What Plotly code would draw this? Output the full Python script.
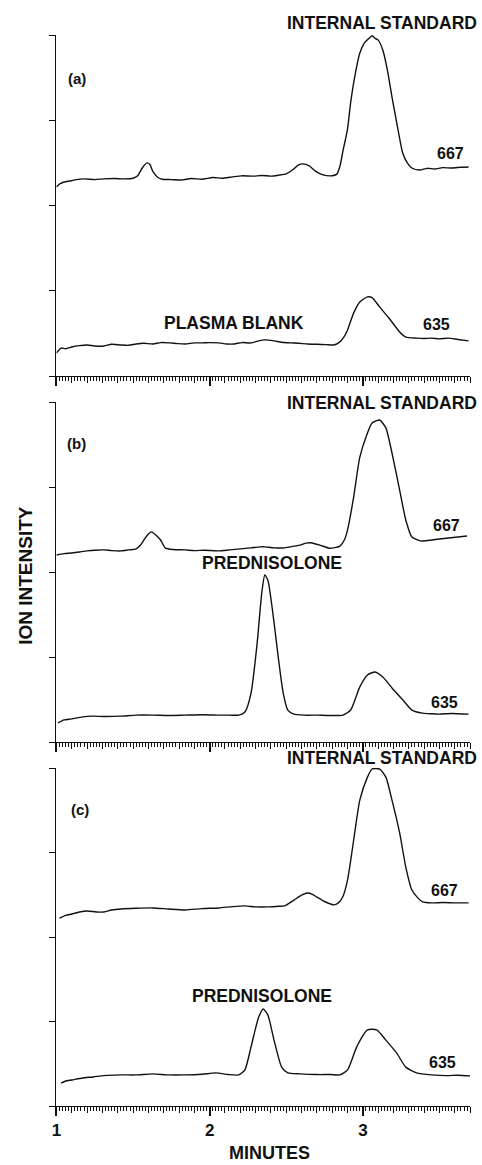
import plotly.graph_objects as go

# ---------------- data (time in minutes, relative ion intensity) ----------------
# panel (a) m/z 667
a667_t = [1.00, 1.02, 1.05, 1.09, 1.12, 1.18, 1.25, 1.31, 1.38, 1.44, 1.50, 1.53, 1.56, 1.59, 1.61, 1.63,
          1.66, 1.69, 1.75, 1.82, 1.88, 1.95, 2.02, 2.08, 2.15, 2.21, 2.28, 2.34, 2.40, 2.45, 2.50, 2.54,
          2.58, 2.61, 2.65, 2.69, 2.74, 2.79, 2.83, 2.85, 2.87, 2.90, 2.92, 2.95, 2.98, 3.01, 3.05, 3.06,
          3.08, 3.10, 3.13, 3.16, 3.19, 3.23, 3.26, 3.29, 3.32, 3.37, 3.42, 3.47, 3.52, 3.58, 3.64, 3.69]
a667_v = [55.4, 56.3, 56.9, 57.2, 57.5, 57.8, 57.6, 57.8, 57.9, 57.8, 58.0, 58.7, 61.0, 62.5, 62.0, 59.9,
          58.3, 57.7, 57.6, 57.5, 57.9, 57.7, 58.2, 58.0, 58.4, 58.7, 58.6, 58.8, 58.6, 58.9, 59.3, 60.4,
          61.9, 62.2, 61.6, 60.1, 59.0, 58.7, 59.2, 61.5, 66.0, 72.5, 80.1, 88.5, 94.7, 97.7, 99.4, 99.8,
          99.0, 98.5, 95.6, 89.7, 81.8, 72.1, 65.4, 62.5, 61.0, 60.4, 60.9, 60.7, 61.1, 61.0, 61.2, 61.3]

# panel (a) m/z 635 (plasma blank)
a635_t = [1.00, 1.03, 1.06, 1.10, 1.15, 1.20, 1.25, 1.31, 1.36, 1.42, 1.47, 1.52, 1.57, 1.63, 1.68, 1.74,
          1.79, 1.84, 1.90, 1.95, 2.00, 2.06, 2.11, 2.16, 2.21, 2.27, 2.32, 2.36, 2.42, 2.47, 2.53, 2.58,
          2.64, 2.70, 2.76, 2.81, 2.85, 2.88, 2.90, 2.94, 2.98, 3.03, 3.06, 3.11, 3.17, 3.24, 3.28, 3.35,
          3.40, 3.45, 3.50, 3.56, 3.62, 3.69]
a635_v = [6.7, 8.2, 8.0, 8.5, 8.9, 9.1, 8.8, 8.8, 9.3, 9.1, 9.0, 9.4, 9.6, 9.4, 9.8, 9.7,
          9.5, 9.4, 9.7, 9.7, 9.8, 9.7, 9.4, 9.4, 9.8, 9.7, 10.3, 10.6, 10.3, 9.9, 9.7, 9.6,
          9.4, 9.3, 9.2, 9.1, 10.0, 11.7, 13.5, 18.5, 21.7, 23.2, 23.0, 20.2, 17.0, 12.9, 11.4, 11.1,
          11.0, 11.1, 10.9, 11.1, 10.7, 10.3]

# panel (b) m/z 667
b667_t = [1.00, 1.05, 1.10, 1.15, 1.20, 1.25, 1.31, 1.36, 1.42, 1.47, 1.52, 1.55, 1.57, 1.60, 1.62, 1.65,
          1.68, 1.71, 1.76, 1.84, 1.90, 1.97, 2.06, 2.13, 2.20, 2.27, 2.33, 2.36, 2.42, 2.49, 2.55, 2.59,
          2.63, 2.66, 2.72, 2.78, 2.81, 2.85, 2.88, 2.90, 2.94, 2.98, 3.03, 3.06, 3.09, 3.11, 3.15, 3.19,
          3.24, 3.28, 3.32, 3.36, 3.39, 3.45, 3.50, 3.56, 3.62, 3.68]
b667_v = [55.0, 55.4, 55.6, 55.9, 56.2, 56.4, 56.5, 56.3, 56.2, 56.5, 56.8, 58.0, 59.4, 61.2, 61.8, 60.8,
          59.4, 57.1, 56.6, 56.5, 56.3, 56.4, 56.2, 56.5, 56.8, 57.1, 57.4, 57.4, 57.1, 57.1, 57.6, 57.9,
          58.5, 58.6, 57.9, 57.0, 57.1, 57.6, 59.5, 62.4, 72.1, 83.8, 90.9, 93.8, 94.5, 94.7, 92.4, 85.0,
          74.1, 65.3, 60.3, 59.4, 59.1, 59.4, 59.7, 60.0, 60.3, 60.6]

# panel (b) m/z 635 (prednisolone)
b635_t = [1.01, 1.05, 1.10, 1.17, 1.24, 1.31, 1.42, 1.52, 1.63, 1.73, 1.84, 1.95, 2.06, 2.13, 2.19, 2.23,
          2.27, 2.31, 2.34, 2.36, 2.38, 2.41, 2.45, 2.48, 2.51, 2.55, 2.62, 2.70, 2.78, 2.87, 2.92, 2.98,
          3.03, 3.08, 3.13, 3.19, 3.26, 3.32, 3.39, 3.45, 3.50, 3.58, 3.69]
b635_v = [5.6, 6.5, 6.8, 7.4, 7.6, 7.5, 7.6, 7.9, 7.9, 7.8, 7.9, 8.0, 7.9, 7.9, 7.9, 8.8,
          14.4, 29.1, 43.8, 49.1, 47.6, 38.8, 24.1, 14.4, 9.4, 8.2, 7.9, 7.9, 7.8, 7.9, 9.4, 16.2,
          19.7, 20.6, 19.1, 15.9, 12.4, 9.4, 8.5, 8.3, 8.2, 8.4, 8.2]

# panel (c) m/z 667
c667_t = [1.02, 1.06, 1.10, 1.15, 1.20, 1.26, 1.31, 1.36, 1.42, 1.52, 1.63, 1.73, 1.84, 1.95, 2.06, 2.15,
          2.23, 2.30, 2.38, 2.45, 2.49, 2.55, 2.60, 2.64, 2.67, 2.70, 2.75, 2.81, 2.84, 2.87, 2.90, 2.94,
          2.98, 3.03, 3.06, 3.11, 3.15, 3.19, 3.24, 3.28, 3.32, 3.36, 3.39, 3.45, 3.52, 3.60, 3.69]
c667_v = [55.6, 56.4, 56.8, 57.4, 57.7, 57.4, 57.4, 58.0, 58.3, 58.5, 58.6, 58.3, 58.0, 58.4, 58.6, 59.0,
          59.2, 58.9, 58.9, 59.1, 59.2, 60.9, 62.4, 63.0, 62.6, 61.8, 60.5, 59.5, 60.1, 62.0, 66.9, 78.7,
          90.5, 97.3, 99.7, 99.7, 97.3, 90.5, 80.8, 70.7, 63.9, 61.5, 60.4, 60.1, 60.2, 60.1, 60.1]

# panel (c) m/z 635 (prednisolone)
c635_t = [1.03, 1.06, 1.10, 1.17, 1.24, 1.31, 1.42, 1.52, 1.63, 1.73, 1.84, 1.95, 2.04, 2.12, 2.19, 2.23,
          2.27, 2.32, 2.35, 2.38, 2.42, 2.47, 2.51, 2.59, 2.70, 2.79, 2.85, 2.90, 2.96, 3.03, 3.09, 3.15,
          3.22, 3.28, 3.35, 3.45, 3.55, 3.62, 3.70]
c635_v = [6.8, 7.4, 7.7, 8.3, 8.6, 9.0, 9.2, 9.2, 9.5, 9.2, 9.2, 9.4, 9.8, 9.3, 9.2, 10.7,
          17.5, 26.3, 28.7, 26.9, 19.5, 11.5, 9.8, 9.5, 9.3, 9.3, 9.2, 10.7, 17.5, 22.5, 22.5, 19.5,
          15.7, 11.5, 9.8, 9.2, 9.0, 9.1, 8.9]

x_tick_vals = [1, 2, 3]
x_tick_text = ["1", "2", "3"]
y_tick_vals = [0, 25, 50, 75, 100]

# ---------------- figure ----------------
W, H = 482, 1165
FONT = "Liberation Sans"
INK = "#111111"


def fx(px):
    return px / W


def fy(py):
    return 1 - py / H


fig = go.Figure()

panels = [
    ("x", "y", a667_t, a667_v, a635_t, a635_v),
    ("x2", "y2", b667_t, b667_v, b635_t, b635_v),
    ("x3", "y3", c667_t, c667_v, c635_t, c635_v),
]
for xa, ya, t1, v1, t2, v2 in panels:
    for t, v in ((t1, v1), (t2, v2)):
        fig.add_trace(go.Scatter(x=t, y=v, mode="lines", xaxis=xa, yaxis=ya,
                                 line=dict(color=INK, width=1.4, shape="spline", smoothing=0.6),
                                 hoverinfo="skip"))

# dummy traces for the overlay tick axes (0.1-minute ticks)
for xa, ya in (("x4", "y"), ("x5", "y2"), ("x6", "y3")):
    fig.add_trace(go.Scatter(x=[1], y=[0], xaxis=xa, yaxis=ya, mode="none", hoverinfo="skip"))

x_dom = [fx(52), fx(470)]
y_doms = [[fy(376), fy(35)], [fy(742), fy(402)], [fy(1106), fy(768)]]
x_range = [1, 3.70]

layout = dict(
    width=W, height=H, margin=dict(l=0, r=0, t=0, b=0),
    paper_bgcolor="white", plot_bgcolor="white", showlegend=False,
    font=dict(family=FONT, color=INK),
)

names = ["", "2", "3"]
for i, n in enumerate(names):
    last = (i == 2)
    layout["xaxis" + n] = dict(
        domain=x_dom, anchor="y" + n, range=x_range,
        showline=True, linecolor=INK, linewidth=1,
        showgrid=False, zeroline=False,
        tickmode="array", tickvals=x_tick_vals, ticktext=x_tick_text,
        ticks="outside", ticklen=9, tickwidth=1.5, tickcolor=INK,
        showticklabels=last,
        tickfont=dict(family=FONT, size=17, color=INK, weight="bold"),
        minor=dict(tickmode="linear", tick0=1, dtick=0.02, ticks="outside",
                   ticklen=4, tickwidth=1, tickcolor=INK),
    )
    layout["yaxis" + n] = dict(
        domain=y_doms[i], anchor="x" + n, range=[0, 100],
        showline=True, linecolor=INK, linewidth=1.2,
        showgrid=False, zeroline=False,
        tickmode="array", tickvals=y_tick_vals,
        ticks="outside", ticklen=6, tickwidth=1, tickcolor=INK,
        showticklabels=False,
    )

tenth = [round(1 + 0.1 * k, 2) for k in range(0, 28)]
for j, (n, yn) in enumerate((("4", "y"), ("5", "y2"), ("6", "y3"))):
    layout["xaxis" + n] = dict(
        overlaying="x" + names[j] if names[j] else "x", anchor=yn, domain=x_dom, range=x_range,
        side="bottom", showline=False, showgrid=False, zeroline=False,
        tickmode="array", tickvals=tenth, ticks="outside", ticklen=6,
        tickwidth=1, tickcolor=INK, showticklabels=False,
    )

fig.update_layout(**layout)

LBL = 17.5
anns = [
    # panel (a)
    dict(text="INTERNAL STANDARD", x=fx(479), y=fy(23), xanchor="right", size=LBL),
    dict(text="(a)", x=fx(73), y=fy(79), xanchor="center", size=15),
    dict(text="667", x=fx(450), y=fy(154), xanchor="center", size=16),
    dict(text="PLASMA BLANK", x=fx(231), y=fy(323), xanchor="center", size=LBL),
    dict(text="635", x=fx(436), y=fy(324), xanchor="center", size=16),
    # panel (b)
    dict(text="INTERNAL STANDARD", x=fx(479), y=fy(403), xanchor="right", size=LBL),
    dict(text="(b)", x=fx(72), y=fy(443), xanchor="center", size=15),
    dict(text="667", x=fx(446), y=fy(525), xanchor="center", size=16),
    dict(text="PREDNISOLONE", x=fx(270), y=fy(563), xanchor="center", size=LBL),
    dict(text="635", x=fx(444), y=fy(702), xanchor="center", size=16),
    # panel (c)
    dict(text="INTERNAL STANDARD", x=fx(479), y=fy(758), xanchor="right", size=LBL),
    dict(text="(c)", x=fx(76), y=fy(810), xanchor="center", size=15),
    dict(text="667", x=fx(444), y=fy(890), xanchor="center", size=16),
    dict(text="PREDNISOLONE", x=fx(260), y=fy(996), xanchor="center", size=LBL),
    dict(text="635", x=fx(442), y=fy(1062), xanchor="center", size=16),
    # axis title
    dict(text="MINUTES", x=fx(267), y=fy(1153), xanchor="center", size=18),
]
for a in anns:
    fig.add_annotation(text=a["text"], x=a["x"], y=a["y"], xref="paper", yref="paper",
                       xanchor=a["xanchor"], yanchor="middle", showarrow=False,
                       font=dict(family=FONT, size=a["size"], color=INK, weight="bold"))

fig.add_annotation(text="ION INTENSITY", x=fx(20), y=fy(575), xref="paper", yref="paper",
                   xanchor="center", yanchor="middle", showarrow=False, textangle=-90,
                   font=dict(family=FONT, size=19, color=INK, weight="bold"))

fig.write_html("out.html")
